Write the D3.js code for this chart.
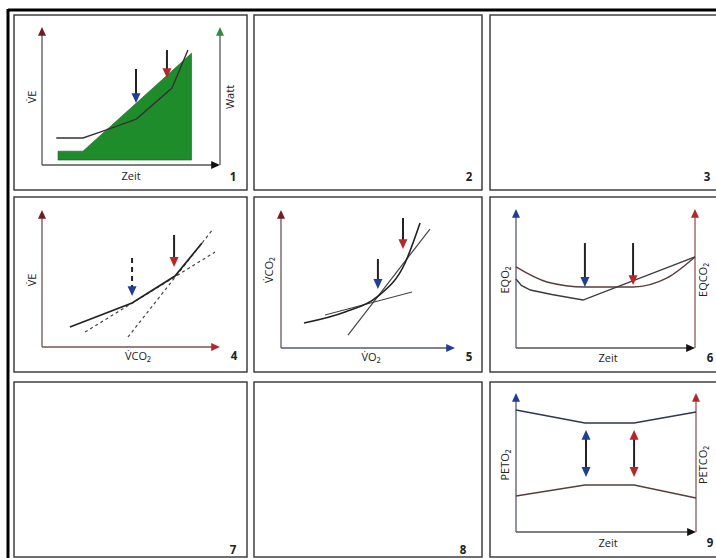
<!DOCTYPE html>
<html>
<head>
<meta charset="utf-8">
<script src="https://cdn.jsdelivr.net/npm/d3@7"></script>
<style>
  body { margin: 0; background: #fff; }
  svg { display: block; }
  text { font-family: "Open Sans", "DejaVu Sans", sans-serif; fill: #222; }
</style>
</head>
<body>
<div id="chart"></div>
<script>
// all values in relative units 0-100 on each panel's axes

// panel 1: load ramp (Watt) and VE over time
const wattRamp = [{t: 9, w: 10}, {t: 23, w: 10}, {t: 84, w: 81}];
const wattBase = 3.6;
const veOverTime = [{x: 8, y: 19.6}, {x: 23, y: 19.6}, {x: 33, y: 24}, {x: 53, y: 33.3}, {x: 73, y: 55.8}, {x: 82, y: 83.3}];
const arrows1 = [{x: 52.8, from: 69.6, to: 44.9, kind: 'vt1'}, {x: 70.2, from: 83.3, to: 63, kind: 'vt2'}];

// panel 4: VE vs VCO2
const veVsVco2 = [{x: 15.7, y: 14.6}, {x: 50.6, y: 32.1}, {x: 74.7, y: 51.8}, {x: 89.9, y: 75.9}];
const fit4a = [{x: 24.2, y: 10.9}, {x: 97.2, y: 69.3}];
const fit4b = [{x: 48.3, y: 7.3}, {x: 96.1, y: 86.1}];
const arrows4 = [{x: 50.6, from: 65, to: 37.2, kind: 'vt1', dashed: true}, {x: 74.2, from: 81.8, to: 58.4, kind: 'vt2'}];

// panel 5: V-slope
const vco2VsVo2 = [{x: 13.2, y: 18.1}, {x: 36.8, y: 26.1}, {x: 55.2, y: 37}, {x: 71.3, y: 61.6}, {x: 79.9, y: 90.6}];
const fit5a = [{x: 25.3, y: 23.9}, {x: 75.3, y: 40.6}];
const fit5b = [{x: 38.5, y: 9.4}, {x: 85.6, y: 86.2}];
const arrows5 = [{x: 55.7, from: 64.5, to: 42.8, kind: 'vt1'}, {x: 70.1, from: 94.2, to: 71.7, kind: 'vt2'}];

// panel 6: ventilatory equivalents
const eqco2 = [{x: 0, y: 58.3}, {x: 17.3, y: 47.5}, {x: 38.5, y: 43.9}, {x: 65.4, y: 43.9}, {x: 84.4, y: 50.4}, {x: 100, y: 65.5}];
const eqo2 = [{x: 0, y: 49.6}, {x: 3, y: 45}, {x: 8, y: 41.7}, {x: 20, y: 38.5}, {x: 37.4, y: 34.5}, {x: 100, y: 65.5}];
const arrows6 = [{x: 38.5, from: 75.5, to: 43.9, kind: 'vt1'}, {x: 65.4, from: 75.5, to: 45.3, kind: 'vt2'}];

// panel 9: end-tidal pressures
const peto2 = [{x: 0, y: 87.8}, {x: 38.3, y: 78.4}, {x: 65.6, y: 78.4}, {x: 100, y: 86.3}];
const petco2 = [{x: 0, y: 25.9}, {x: 38.3, y: 33.8}, {x: 65.6, y: 33.8}, {x: 100, y: 24.5}];
const arrows9 = [{x: 38.9, from: 73.4, to: 39.6, kind: 'vt1', both: true}, {x: 65.6, from: 73.4, to: 39.6, kind: 'vt2', both: true}];

const panelNumbers = ['1', '2', '3', '4', '5', '6', '7', '8', '9'];

const W = 716, H = 558;
const BLUE = '#1f3f95', RED = '#b8262b', MAROON = '#6e1f25', GREEN = '#2d8d3a', FILL = '#1f8c2c';
const arrowColor = {vt1: BLUE, vt2: RED};

const svg = d3.select('#chart').append('svg').attr('width', W).attr('height', H);

// outer frame (top and left edges visible)
svg.append('line').attr('x1', 8).attr('y1', 10).attr('x2', W).attr('y2', 10).attr('stroke', '#000').attr('stroke-width', 3);
svg.append('line').attr('x1', 8).attr('y1', 9).attr('x2', 8).attr('y2', H).attr('stroke', '#000').attr('stroke-width', 3);

const cols = [[14, 247], [254, 482], [490, 725]];
const rows = [[15, 190], [197, 372], [382, 557]];
const numPos = [[233, 177], [469, 177], [707, 177], [234, 356], [469, 357], [710, 358], [233, 550], [463, 550], [710, 543]];

rows.forEach((r, i) => cols.forEach((c, j) => {
  const k = i * 3 + j;
  svg.append('rect').attr('x', c[0]).attr('y', r[0]).attr('width', c[1] - c[0]).attr('height', r[1] - r[0])
    .attr('fill', 'none').attr('stroke', '#333').attr('stroke-width', 1.4);
  svg.append('text').attr('x', numPos[k][0]).attr('y', numPos[k][1]).attr('dy', '0.35em')
    .attr('text-anchor', 'middle').attr('font-size', 11.5).attr('font-weight', 'bold').text(panelNumbers[k]);
}));

function head(g, x, y, dir, color, size) {
  const s = size || 4, l = s * 2.2;
  let pts;
  if (dir === 'up') pts = [[x, y], [x - s, y + l], [x + s, y + l]];
  else if (dir === 'down') pts = [[x, y], [x - s, y - l], [x + s, y - l]];
  else pts = [[x, y], [x - l, y - s], [x - l, y + s]];
  g.append('path').attr('d', 'M' + pts.join('L') + 'Z').attr('fill', color);
}

function panel(box) {
  const x = d3.scaleLinear().domain([0, 100]).range([box.x0, box.x1]);
  const y = d3.scaleLinear().domain([0, 100]).range([box.y0, box.y1]);
  const g = svg.append('g');
  g.append('line').attr('x1', box.x0).attr('y1', box.y0).attr('x2', box.x0).attr('y2', box.y1 + 6)
    .attr('stroke', box.lc || '#555').attr('stroke-width', 1.3);
  g.append('line').attr('x1', box.x0).attr('y1', box.y0).attr('x2', box.x1 - 6).attr('y2', box.y0)
    .attr('stroke', box.bc || '#555').attr('stroke-width', 1.3);
  head(g, box.x0, box.y1, 'up', box.la);
  head(g, box.x1, box.y0, 'right', box.ba);
  if (box.ra) {
    g.append('line').attr('x1', x(100)).attr('y1', box.y0).attr('x2', x(100)).attr('y2', box.y1 + 6)
      .attr('stroke', box.rc || '#555').attr('stroke-width', 1.3);
    head(g, x(100), box.y1, 'up', box.ra);
  }
  return {g, x, y};
}

function label(t, x, y, rot) {
  svg.append('text').attr('text-anchor', 'middle').attr('font-size', 11)
    .attr('transform', `translate(${x},${y})` + (rot ? ' rotate(-90)' : ''))
    .attr('dy', '0.35em').text(t);
}

function drawLine(p, data, color, opts) {
  const o = opts || {};
  const ln = d3.line().x(d => p.x(d.x)).y(d => p.y(d.y)).curve(o.curve || d3.curveLinear);
  p.g.append('path').datum(data).attr('d', ln).attr('fill', 'none')
    .attr('stroke', color).attr('stroke-width', o.w || 1.4)
    .attr('stroke-dasharray', o.dash || null);
}

function drawArrows(p, list) {
  list.forEach(a => {
    const c = arrowColor[a.kind];
    const xs = p.x(a.x), ys = p.y(a.from), ye = p.y(a.to);
    p.g.append('line').attr('x1', xs).attr('y1', a.both ? ys + 8 : ys).attr('x2', xs).attr('y2', ye - 8)
      .attr('stroke', '#222').attr('stroke-width', 2).attr('stroke-dasharray', a.dashed ? '5,4' : null);
    head(p.g, xs, ye, 'down', c, 4.5);
    if (a.both) head(p.g, xs, ys, 'up', c, 4.5);
  });
}

// ---- panel 1
const p1 = panel({x0: 42, x1: 220, y0: 165, y1: 27, la: MAROON, ba: '#111', ra: GREEN});
p1.g.append('path').datum(wattRamp)
  .attr('d', d3.area().x(d => p1.x(d.t)).y0(p1.y(wattBase)).y1(d => p1.y(d.w)))
  .attr('fill', FILL).attr('stroke', '#1a5a22').attr('stroke-width', 0.6);
drawLine(p1, veOverTime, '#333');
drawArrows(p1, arrows1);
label('V\u0307E', 32, 97, true);
label('Watt', 230, 97, true);
label('Zeit', 131, 176);

// ---- panel 4
const p4 = panel({x0: 42, x1: 220, y0: 347, y1: 210, la: MAROON, ba: RED, lc: '#6a5555', bc: '#7a5555'});
drawLine(p4, fit4a, '#444', {dash: '3,3', w: 1.2});
drawLine(p4, fit4b, '#444', {dash: '3,3', w: 1.2});
drawLine(p4, veVsVco2, '#222', {w: 1.7});
drawArrows(p4, arrows4);
label('V\u0307E', 32, 280, true);
label('V\u0307CO\u2082', 138, 356);

// ---- panel 5
const p5 = panel({x0: 281, x1: 455, y0: 348, y1: 210, la: MAROON, ba: BLUE, lc: '#6a5555', bc: '#555a70'});
drawLine(p5, fit5a, '#444', {w: 1.2});
drawLine(p5, fit5b, '#444', {w: 1.2});
drawLine(p5, vco2VsVo2, '#222', {w: 1.6, curve: d3.curveMonotoneX});
drawArrows(p5, arrows5);
label('V\u0307CO\u2082', 269, 270, true);
label('V\u0307O\u2082', 371, 357);

// ---- panel 6
const p6 = panel({x0: 516, x1: 695, y0: 348, y1: 209, la: BLUE, ba: '#111', ra: RED, lc: '#555a70', rc: '#8a5a5a'});
drawLine(p6, eqco2, '#5a3c3c', {curve: d3.curveMonotoneX});
drawLine(p6, eqo2, '#3a3a40');
drawArrows(p6, arrows6);
label('EQO\u2082', 505, 280, true);
label('EQCO\u2082', 703, 280, true);
label('Zeit', 608, 358);

// ---- panel 9
const p9 = panel({x0: 516, x1: 696, y0: 532, y1: 393, la: BLUE, ba: '#111', ra: RED, lc: '#555a70', rc: '#8a5a5a'});
drawLine(p9, peto2, '#2e3550');
drawLine(p9, petco2, '#5a3c3c');
drawArrows(p9, arrows9);
label('PETO\u2082', 505, 465, true);
label('PETCO\u2082', 703, 465, true);
label('Zeit', 608, 543);
</script>
</body>
</html>
